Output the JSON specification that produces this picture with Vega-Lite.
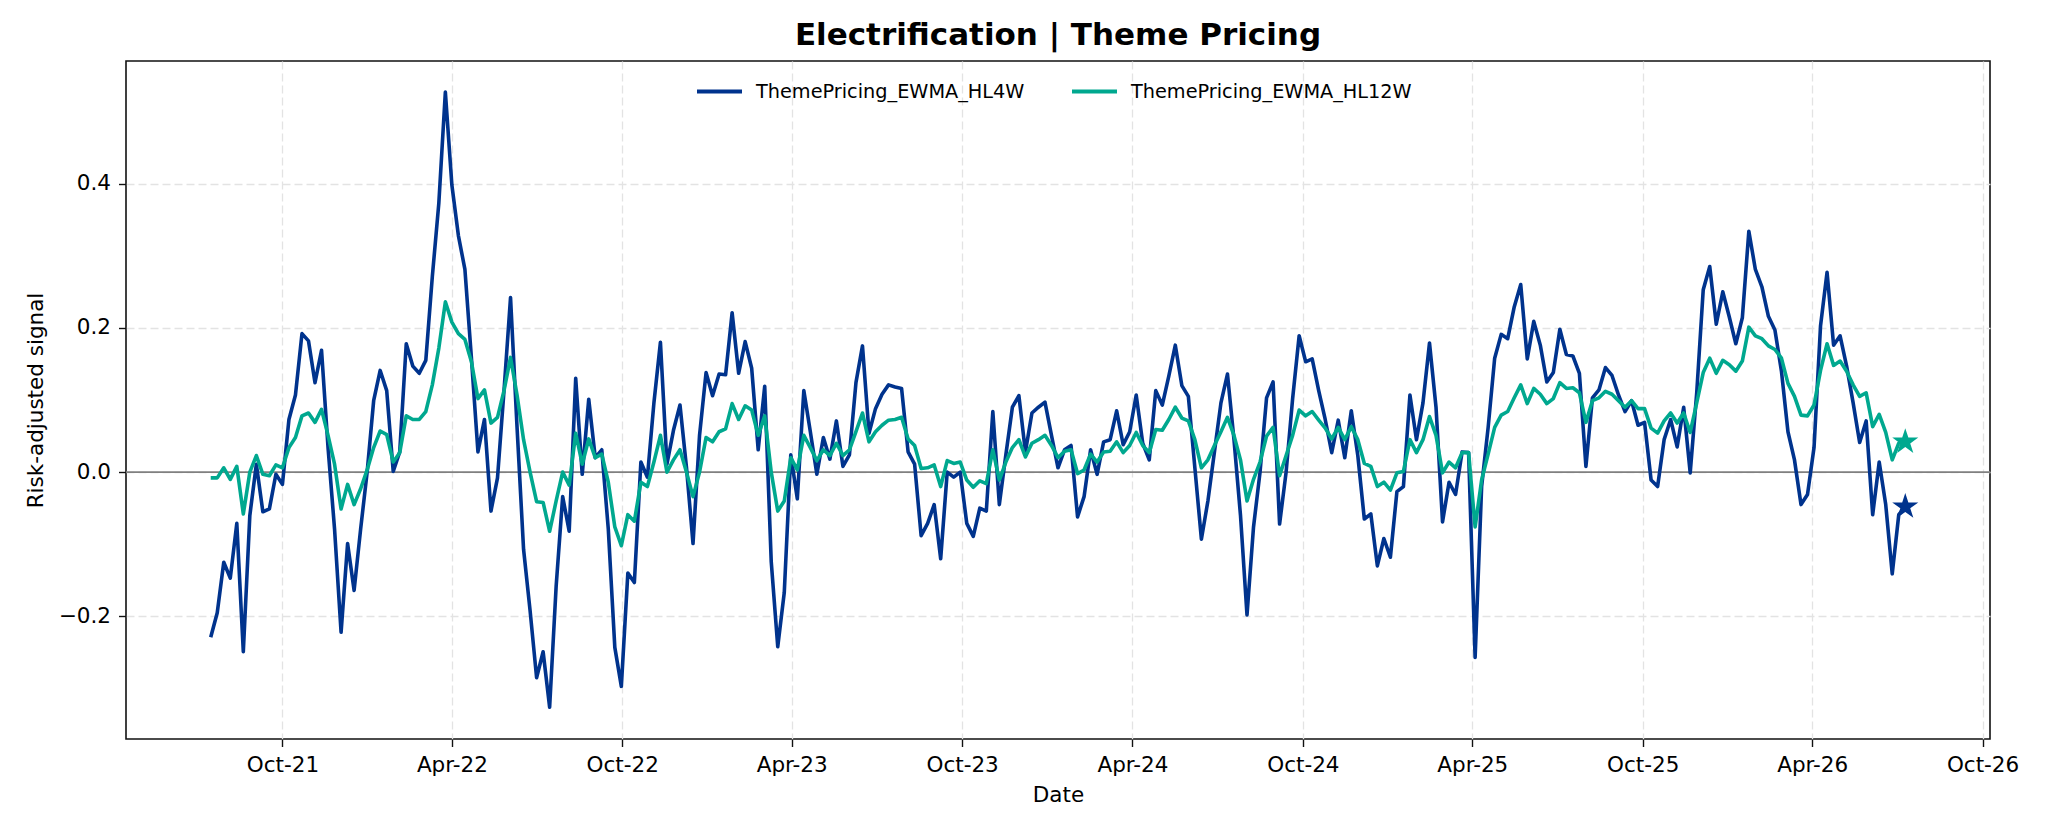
{
"$schema": "https://vega.github.io/schema/vega-lite/v6.json",
"width": 1864, "height": 678,
"autosize": {"type": "none"},
"padding": {"left": 126, "top": 61, "right": 58, "bottom": 93},
"background": "white",
"title": {"text": "Electrification | Theme Pricing", "font": "DejaVu Sans", "fontSize": 31, "fontWeight": "bold", "color": "#000", "anchor": "middle", "offset": 9},
"config": {
 "font": "DejaVu Sans",
 "view": {"stroke": "#111", "strokeWidth": 1.6},
 "axis": {"labelFont": "DejaVu Sans", "titleFont": "DejaVu Sans", "labelFontSize": 21.5, "titleFontSize": 21.5, "labelColor": "#000", "titleColor": "#000", "titleFontWeight": "normal", "tickColor": "#111", "tickSize": 7.5, "tickWidth": 1.4, "domain": false, "gridColor": "#e3e3e3", "gridDash": [8, 4], "gridWidth": 1.3},
 "legend": {"labelFont": "DejaVu Sans", "labelFontSize": 19.3, "labelColor": "#000"}
},
"data": {"values": [
{"date":"2021-07-16","hl4":-0.229,"hl12":-0.008},
{"date":"2021-07-23","hl4":-0.195,"hl12":-0.008},
{"date":"2021-07-30","hl4":-0.125,"hl12":0.006},
{"date":"2021-08-06","hl4":-0.147,"hl12":-0.010},
{"date":"2021-08-13","hl4":-0.071,"hl12":0.008},
{"date":"2021-08-20","hl4":-0.249,"hl12":-0.058},
{"date":"2021-08-27","hl4":-0.060,"hl12":0.000},
{"date":"2021-09-03","hl4":0.011,"hl12":0.023},
{"date":"2021-09-10","hl4":-0.055,"hl12":-0.003},
{"date":"2021-09-17","hl4":-0.051,"hl12":-0.005},
{"date":"2021-09-24","hl4":-0.003,"hl12":0.010},
{"date":"2021-10-01","hl4":-0.017,"hl12":0.006},
{"date":"2021-10-08","hl4":0.073,"hl12":0.034},
{"date":"2021-10-15","hl4":0.107,"hl12":0.048},
{"date":"2021-10-22","hl4":0.192,"hl12":0.078},
{"date":"2021-10-29","hl4":0.182,"hl12":0.082},
{"date":"2021-11-05","hl4":0.124,"hl12":0.069},
{"date":"2021-11-12","hl4":0.169,"hl12":0.087},
{"date":"2021-11-19","hl4":0.034,"hl12":0.051},
{"date":"2021-11-26","hl4":-0.079,"hl12":0.011},
{"date":"2021-12-03","hl4":-0.222,"hl12":-0.051},
{"date":"2021-12-10","hl4":-0.099,"hl12":-0.017},
{"date":"2021-12-17","hl4":-0.164,"hl12":-0.045},
{"date":"2021-12-24","hl4":-0.079,"hl12":-0.023},
{"date":"2021-12-31","hl4":0.000,"hl12":0.003},
{"date":"2022-01-07","hl4":0.099,"hl12":0.034},
{"date":"2022-01-14","hl4":0.141,"hl12":0.057},
{"date":"2022-01-21","hl4":0.113,"hl12":0.052},
{"date":"2022-01-28","hl4":0.001,"hl12":0.014},
{"date":"2022-02-04","hl4":0.028,"hl12":0.027},
{"date":"2022-02-11","hl4":0.178,"hl12":0.078},
{"date":"2022-02-18","hl4":0.147,"hl12":0.073},
{"date":"2022-02-25","hl4":0.137,"hl12":0.073},
{"date":"2022-03-04","hl4":0.155,"hl12":0.084},
{"date":"2022-03-11","hl4":0.271,"hl12":0.121},
{"date":"2022-03-18","hl4":0.373,"hl12":0.172},
{"date":"2022-03-25","hl4":0.527,"hl12":0.236},
{"date":"2022-04-01","hl4":0.398,"hl12":0.208},
{"date":"2022-04-08","hl4":0.328,"hl12":0.192},
{"date":"2022-04-15","hl4":0.281,"hl12":0.184},
{"date":"2022-04-22","hl4":0.158,"hl12":0.153},
{"date":"2022-04-29","hl4":0.028,"hl12":0.102},
{"date":"2022-05-06","hl4":0.073,"hl12":0.114},
{"date":"2022-05-13","hl4":-0.054,"hl12":0.068},
{"date":"2022-05-20","hl4":-0.008,"hl12":0.076},
{"date":"2022-05-27","hl4":0.113,"hl12":0.113},
{"date":"2022-06-03","hl4":0.242,"hl12":0.159},
{"date":"2022-06-10","hl4":0.062,"hl12":0.107},
{"date":"2022-06-17","hl4":-0.107,"hl12":0.045},
{"date":"2022-06-24","hl4":-0.192,"hl12":0.000},
{"date":"2022-07-01","hl4":-0.285,"hl12":-0.041},
{"date":"2022-07-08","hl4":-0.249,"hl12":-0.042},
{"date":"2022-07-15","hl4":-0.326,"hl12":-0.082},
{"date":"2022-07-22","hl4":-0.158,"hl12":-0.040},
{"date":"2022-07-29","hl4":-0.034,"hl12":0.000},
{"date":"2022-08-05","hl4":-0.082,"hl12":-0.018},
{"date":"2022-08-12","hl4":0.130,"hl12":0.054},
{"date":"2022-08-19","hl4":-0.003,"hl12":0.011},
{"date":"2022-08-26","hl4":0.101,"hl12":0.046},
{"date":"2022-09-02","hl4":0.020,"hl12":0.020},
{"date":"2022-09-09","hl4":0.031,"hl12":0.025},
{"date":"2022-09-16","hl4":-0.079,"hl12":-0.014},
{"date":"2022-09-23","hl4":-0.243,"hl12":-0.076},
{"date":"2022-09-30","hl4":-0.297,"hl12":-0.102},
{"date":"2022-10-07","hl4":-0.140,"hl12":-0.059},
{"date":"2022-10-14","hl4":-0.153,"hl12":-0.068},
{"date":"2022-10-21","hl4":0.014,"hl12":-0.014},
{"date":"2022-10-28","hl4":-0.007,"hl12":-0.020},
{"date":"2022-11-04","hl4":0.096,"hl12":0.014},
{"date":"2022-11-11","hl4":0.180,"hl12":0.051},
{"date":"2022-11-18","hl4":0.011,"hl12":0.000},
{"date":"2022-11-25","hl4":0.058,"hl12":0.017},
{"date":"2022-12-02","hl4":0.093,"hl12":0.031},
{"date":"2022-12-09","hl4":0.006,"hl12":0.000},
{"date":"2022-12-16","hl4":-0.099,"hl12":-0.034},
{"date":"2022-12-23","hl4":0.051,"hl12":0.000},
{"date":"2022-12-30","hl4":0.138,"hl12":0.048},
{"date":"2023-01-06","hl4":0.106,"hl12":0.042},
{"date":"2023-01-13","hl4":0.136,"hl12":0.056},
{"date":"2023-01-20","hl4":0.135,"hl12":0.060},
{"date":"2023-01-27","hl4":0.221,"hl12":0.095},
{"date":"2023-02-03","hl4":0.137,"hl12":0.073},
{"date":"2023-02-10","hl4":0.181,"hl12":0.092},
{"date":"2023-02-17","hl4":0.144,"hl12":0.086},
{"date":"2023-02-24","hl4":0.031,"hl12":0.051},
{"date":"2023-03-03","hl4":0.119,"hl12":0.078},
{"date":"2023-03-10","hl4":-0.124,"hl12":0.000},
{"date":"2023-03-17","hl4":-0.242,"hl12":-0.054},
{"date":"2023-03-24","hl4":-0.167,"hl12":-0.040},
{"date":"2023-03-31","hl4":0.024,"hl12":0.020},
{"date":"2023-04-07","hl4":-0.037,"hl12":0.003},
{"date":"2023-04-14","hl4":0.113,"hl12":0.051},
{"date":"2023-04-21","hl4":0.056,"hl12":0.034},
{"date":"2023-04-28","hl4":-0.003,"hl12":0.016},
{"date":"2023-05-05","hl4":0.048,"hl12":0.031},
{"date":"2023-05-12","hl4":0.018,"hl12":0.023},
{"date":"2023-05-19","hl4":0.071,"hl12":0.040},
{"date":"2023-05-26","hl4":0.008,"hl12":0.023},
{"date":"2023-06-02","hl4":0.024,"hl12":0.031},
{"date":"2023-06-09","hl4":0.124,"hl12":0.056},
{"date":"2023-06-16","hl4":0.175,"hl12":0.082},
{"date":"2023-06-23","hl4":0.054,"hl12":0.042},
{"date":"2023-06-30","hl4":0.088,"hl12":0.056},
{"date":"2023-07-07","hl4":0.108,"hl12":0.065},
{"date":"2023-07-14","hl4":0.121,"hl12":0.072},
{"date":"2023-07-21","hl4":0.118,"hl12":0.073},
{"date":"2023-07-28","hl4":0.116,"hl12":0.076},
{"date":"2023-08-04","hl4":0.028,"hl12":0.046},
{"date":"2023-08-11","hl4":0.011,"hl12":0.037},
{"date":"2023-08-18","hl4":-0.088,"hl12":0.005},
{"date":"2023-08-25","hl4":-0.071,"hl12":0.006},
{"date":"2023-09-01","hl4":-0.045,"hl12":0.010},
{"date":"2023-09-08","hl4":-0.120,"hl12":-0.020},
{"date":"2023-09-15","hl4":0.000,"hl12":0.016},
{"date":"2023-09-22","hl4":-0.007,"hl12":0.012},
{"date":"2023-09-29","hl4":0.000,"hl12":0.014},
{"date":"2023-10-06","hl4":-0.071,"hl12":-0.011},
{"date":"2023-10-13","hl4":-0.089,"hl12":-0.021},
{"date":"2023-10-20","hl4":-0.050,"hl12":-0.012},
{"date":"2023-10-27","hl4":-0.054,"hl12":-0.016},
{"date":"2023-11-03","hl4":0.084,"hl12":0.031},
{"date":"2023-11-10","hl4":-0.045,"hl12":-0.011},
{"date":"2023-11-17","hl4":0.024,"hl12":0.014},
{"date":"2023-11-24","hl4":0.090,"hl12":0.034},
{"date":"2023-12-01","hl4":0.106,"hl12":0.045},
{"date":"2023-12-08","hl4":0.028,"hl12":0.021},
{"date":"2023-12-15","hl4":0.082,"hl12":0.040},
{"date":"2023-12-22","hl4":0.090,"hl12":0.045},
{"date":"2023-12-29","hl4":0.097,"hl12":0.051},
{"date":"2024-01-05","hl4":0.051,"hl12":0.037},
{"date":"2024-01-12","hl4":0.006,"hl12":0.020},
{"date":"2024-01-19","hl4":0.031,"hl12":0.029},
{"date":"2024-01-26","hl4":0.037,"hl12":0.031},
{"date":"2024-02-02","hl4":-0.062,"hl12":-0.002},
{"date":"2024-02-09","hl4":-0.034,"hl12":0.003},
{"date":"2024-02-16","hl4":0.031,"hl12":0.025},
{"date":"2024-02-23","hl4":-0.003,"hl12":0.014},
{"date":"2024-03-01","hl4":0.042,"hl12":0.028},
{"date":"2024-03-08","hl4":0.045,"hl12":0.029},
{"date":"2024-03-15","hl4":0.085,"hl12":0.042},
{"date":"2024-03-22","hl4":0.038,"hl12":0.027},
{"date":"2024-03-29","hl4":0.056,"hl12":0.037},
{"date":"2024-04-05","hl4":0.107,"hl12":0.055},
{"date":"2024-04-12","hl4":0.040,"hl12":0.037},
{"date":"2024-04-19","hl4":0.017,"hl12":0.027},
{"date":"2024-04-26","hl4":0.113,"hl12":0.059},
{"date":"2024-05-03","hl4":0.093,"hl12":0.058},
{"date":"2024-05-10","hl4":0.133,"hl12":0.073},
{"date":"2024-05-17","hl4":0.176,"hl12":0.090},
{"date":"2024-05-24","hl4":0.120,"hl12":0.075},
{"date":"2024-05-31","hl4":0.105,"hl12":0.071},
{"date":"2024-06-07","hl4":0.006,"hl12":0.045},
{"date":"2024-06-14","hl4":-0.093,"hl12":0.006},
{"date":"2024-06-21","hl4":-0.040,"hl12":0.017},
{"date":"2024-06-28","hl4":0.028,"hl12":0.037},
{"date":"2024-07-05","hl4":0.096,"hl12":0.056},
{"date":"2024-07-12","hl4":0.136,"hl12":0.076},
{"date":"2024-07-19","hl4":0.045,"hl12":0.051},
{"date":"2024-07-26","hl4":-0.060,"hl12":0.017},
{"date":"2024-08-02","hl4":-0.198,"hl12":-0.040},
{"date":"2024-08-09","hl4":-0.076,"hl12":-0.010},
{"date":"2024-08-16","hl4":0.000,"hl12":0.014},
{"date":"2024-08-23","hl4":0.103,"hl12":0.050},
{"date":"2024-08-30","hl4":0.125,"hl12":0.062},
{"date":"2024-09-06","hl4":-0.072,"hl12":-0.005},
{"date":"2024-09-13","hl4":0.000,"hl12":0.023},
{"date":"2024-09-20","hl4":0.102,"hl12":0.051},
{"date":"2024-09-27","hl4":0.189,"hl12":0.086},
{"date":"2024-10-04","hl4":0.153,"hl12":0.078},
{"date":"2024-10-11","hl4":0.157,"hl12":0.084},
{"date":"2024-10-18","hl4":0.113,"hl12":0.072},
{"date":"2024-10-25","hl4":0.073,"hl12":0.061},
{"date":"2024-11-01","hl4":0.027,"hl12":0.046},
{"date":"2024-11-08","hl4":0.072,"hl12":0.062},
{"date":"2024-11-15","hl4":0.020,"hl12":0.045},
{"date":"2024-11-22","hl4":0.085,"hl12":0.063},
{"date":"2024-11-29","hl4":0.023,"hl12":0.045},
{"date":"2024-12-06","hl4":-0.065,"hl12":0.012},
{"date":"2024-12-13","hl4":-0.058,"hl12":0.008},
{"date":"2024-12-20","hl4":-0.130,"hl12":-0.020},
{"date":"2024-12-27","hl4":-0.092,"hl12":-0.014},
{"date":"2025-01-03","hl4":-0.118,"hl12":-0.025},
{"date":"2025-01-10","hl4":-0.027,"hl12":-0.001},
{"date":"2025-01-17","hl4":-0.020,"hl12":0.001},
{"date":"2025-01-24","hl4":0.107,"hl12":0.045},
{"date":"2025-01-31","hl4":0.045,"hl12":0.027},
{"date":"2025-02-07","hl4":0.096,"hl12":0.045},
{"date":"2025-02-14","hl4":0.179,"hl12":0.077},
{"date":"2025-02-21","hl4":0.090,"hl12":0.051},
{"date":"2025-02-28","hl4":-0.069,"hl12":-0.001},
{"date":"2025-03-07","hl4":-0.014,"hl12":0.014},
{"date":"2025-03-14","hl4":-0.031,"hl12":0.006},
{"date":"2025-03-21","hl4":0.028,"hl12":0.027},
{"date":"2025-03-28","hl4":0.027,"hl12":0.027},
{"date":"2025-04-04","hl4":-0.257,"hl12":-0.076},
{"date":"2025-04-11","hl4":-0.020,"hl12":-0.011},
{"date":"2025-04-18","hl4":0.062,"hl12":0.025},
{"date":"2025-04-25","hl4":0.158,"hl12":0.062},
{"date":"2025-05-02","hl4":0.191,"hl12":0.079},
{"date":"2025-05-09","hl4":0.185,"hl12":0.084},
{"date":"2025-05-16","hl4":0.229,"hl12":0.103},
{"date":"2025-05-23","hl4":0.260,"hl12":0.121},
{"date":"2025-05-30","hl4":0.157,"hl12":0.095},
{"date":"2025-06-06","hl4":0.209,"hl12":0.116},
{"date":"2025-06-13","hl4":0.176,"hl12":0.108},
{"date":"2025-06-20","hl4":0.125,"hl12":0.095},
{"date":"2025-06-27","hl4":0.138,"hl12":0.102},
{"date":"2025-07-04","hl4":0.198,"hl12":0.124},
{"date":"2025-07-11","hl4":0.163,"hl12":0.116},
{"date":"2025-07-18","hl4":0.161,"hl12":0.117},
{"date":"2025-07-25","hl4":0.137,"hl12":0.110},
{"date":"2025-08-01","hl4":0.008,"hl12":0.069},
{"date":"2025-08-08","hl4":0.103,"hl12":0.099},
{"date":"2025-08-15","hl4":0.114,"hl12":0.103},
{"date":"2025-08-22","hl4":0.145,"hl12":0.112},
{"date":"2025-08-29","hl4":0.134,"hl12":0.108},
{"date":"2025-09-05","hl4":0.107,"hl12":0.099},
{"date":"2025-09-12","hl4":0.084,"hl12":0.090},
{"date":"2025-09-19","hl4":0.099,"hl12":0.099},
{"date":"2025-09-26","hl4":0.065,"hl12":0.088},
{"date":"2025-10-03","hl4":0.069,"hl12":0.088},
{"date":"2025-10-10","hl4":-0.011,"hl12":0.061},
{"date":"2025-10-17","hl4":-0.020,"hl12":0.054},
{"date":"2025-10-24","hl4":0.045,"hl12":0.071},
{"date":"2025-10-31","hl4":0.073,"hl12":0.082},
{"date":"2025-11-07","hl4":0.035,"hl12":0.068},
{"date":"2025-11-14","hl4":0.090,"hl12":0.082},
{"date":"2025-11-21","hl4":-0.001,"hl12":0.055},
{"date":"2025-11-28","hl4":0.110,"hl12":0.096},
{"date":"2025-12-05","hl4":0.253,"hl12":0.138},
{"date":"2025-12-12","hl4":0.285,"hl12":0.158},
{"date":"2025-12-19","hl4":0.205,"hl12":0.137},
{"date":"2025-12-26","hl4":0.250,"hl12":0.155},
{"date":"2026-01-02","hl4":0.215,"hl12":0.149},
{"date":"2026-01-09","hl4":0.178,"hl12":0.140},
{"date":"2026-01-16","hl4":0.214,"hl12":0.154},
{"date":"2026-01-23","hl4":0.334,"hl12":0.201},
{"date":"2026-01-30","hl4":0.281,"hl12":0.189},
{"date":"2026-02-06","hl4":0.257,"hl12":0.185},
{"date":"2026-02-13","hl4":0.216,"hl12":0.175},
{"date":"2026-02-20","hl4":0.197,"hl12":0.170},
{"date":"2026-02-27","hl4":0.140,"hl12":0.158},
{"date":"2026-03-06","hl4":0.056,"hl12":0.123},
{"date":"2026-03-13","hl4":0.017,"hl12":0.105},
{"date":"2026-03-20","hl4":-0.045,"hl12":0.079},
{"date":"2026-03-27","hl4":-0.031,"hl12":0.078},
{"date":"2026-04-03","hl4":0.034,"hl12":0.093},
{"date":"2026-04-10","hl4":0.203,"hl12":0.141},
{"date":"2026-04-17","hl4":0.277,"hl12":0.178},
{"date":"2026-04-24","hl4":0.176,"hl12":0.148},
{"date":"2026-05-01","hl4":0.189,"hl12":0.154},
{"date":"2026-05-08","hl4":0.147,"hl12":0.140},
{"date":"2026-05-15","hl4":0.096,"hl12":0.121},
{"date":"2026-05-22","hl4":0.041,"hl12":0.105},
{"date":"2026-05-29","hl4":0.071,"hl12":0.110},
{"date":"2026-06-05","hl4":-0.059,"hl12":0.063},
{"date":"2026-06-12","hl4":0.014,"hl12":0.080},
{"date":"2026-06-19","hl4":-0.045,"hl12":0.055},
{"date":"2026-06-26","hl4":-0.141,"hl12":0.017},
{"date":"2026-07-03","hl4":-0.059,"hl12":0.040},
{"date":"2026-07-10","hl4":-0.048,"hl12":0.042}
]},
"layer": [
 {
  "data": {"values": [{"z": 0}]},
  "mark": {"type": "rule", "color": "#808080", "strokeWidth": 1.8},
  "encoding": {"y": {"field": "z", "type": "quantitative", "scale": {"domain": [-0.370, 0.570], "nice": false, "zero": false}}}
 },
 {
  "transform": [{"fold": ["hl4", "hl12"], "as": ["series", "value"]}],
  "mark": {"type": "line", "strokeWidth": 3.6, "strokeJoin": "round", "strokeCap": "butt"},
  "encoding": {
   "x": {"field": "date", "type": "temporal",
    "scale": {"type": "utc", "domain": [{"year": 2021, "month": 4, "date": 16, "utc": true}, {"year": 2026, "month": 10, "date": 9, "utc": true}], "nice": false},
    "axis": {"title": "Date", "format": "%b-%y", "labelPadding": 8, "titlePadding": 8, "labelFlush": false, "labelOverlap": false,
     "values": [{"year": 2021, "month": 10, "date": 1, "utc": true}, {"year": 2022, "month": 4, "date": 1, "utc": true}, {"year": 2022, "month": 10, "date": 1, "utc": true}, {"year": 2023, "month": 4, "date": 1, "utc": true}, {"year": 2023, "month": 10, "date": 1, "utc": true}, {"year": 2024, "month": 4, "date": 1, "utc": true}, {"year": 2024, "month": 10, "date": 1, "utc": true}, {"year": 2025, "month": 4, "date": 1, "utc": true}, {"year": 2025, "month": 10, "date": 1, "utc": true}, {"year": 2026, "month": 4, "date": 1, "utc": true}, {"year": 2026, "month": 10, "date": 1, "utc": true}]}},
   "y": {"field": "value", "type": "quantitative",
    "scale": {"domain": [-0.370, 0.570], "nice": false, "zero": false},
    "axis": {"title": "Risk-adjusted signal", "values": [-0.2, 0, 0.2, 0.4], "format": ".1f", "labelPadding": 8, "titlePadding": 11}},
   "color": {"field": "series", "type": "nominal",
    "scale": {"domain": ["hl4", "hl12"], "range": ["#00338D", "#00A88F"]},
    "legend": {"title": null, "orient": "none", "legendX": 569, "legendY": 6, "direction": "horizontal", "padding": 0,
     "symbolType": "stroke", "symbolSize": 2025, "symbolStrokeWidth": 4, "labelOffset": 12, "columnPadding": 39, "labelLimit": 0,
     "labelExpr": "datum.label == 'hl4' ? 'ThemePricing_EWMA_HL4W' : 'ThemePricing_EWMA_HL12W'"}}
  }
 },
 {
  "transform": [
   {"fold": ["hl4", "hl12"], "as": ["series", "value"]},
   {"joinaggregate": [{"op": "max", "field": "date", "as": "maxd"}]},
   {"filter": "time(datum.date) == time(datum.maxd)"}
  ],
  "mark": {"type": "point", "filled": true, "opacity": 1, "shape": "M0,-1L0.225,-0.309L0.951,-0.309L0.363,0.118L0.588,0.809L0,0.382L-0.588,0.809L-0.363,0.118L-0.951,-0.309L-0.225,-0.309Z", "size": 750},
  "encoding": {
   "x": {"field": "date", "type": "temporal"},
   "y": {"field": "value", "type": "quantitative"},
   "color": {"field": "series", "type": "nominal", "legend": null}
  }
 }
]
}
